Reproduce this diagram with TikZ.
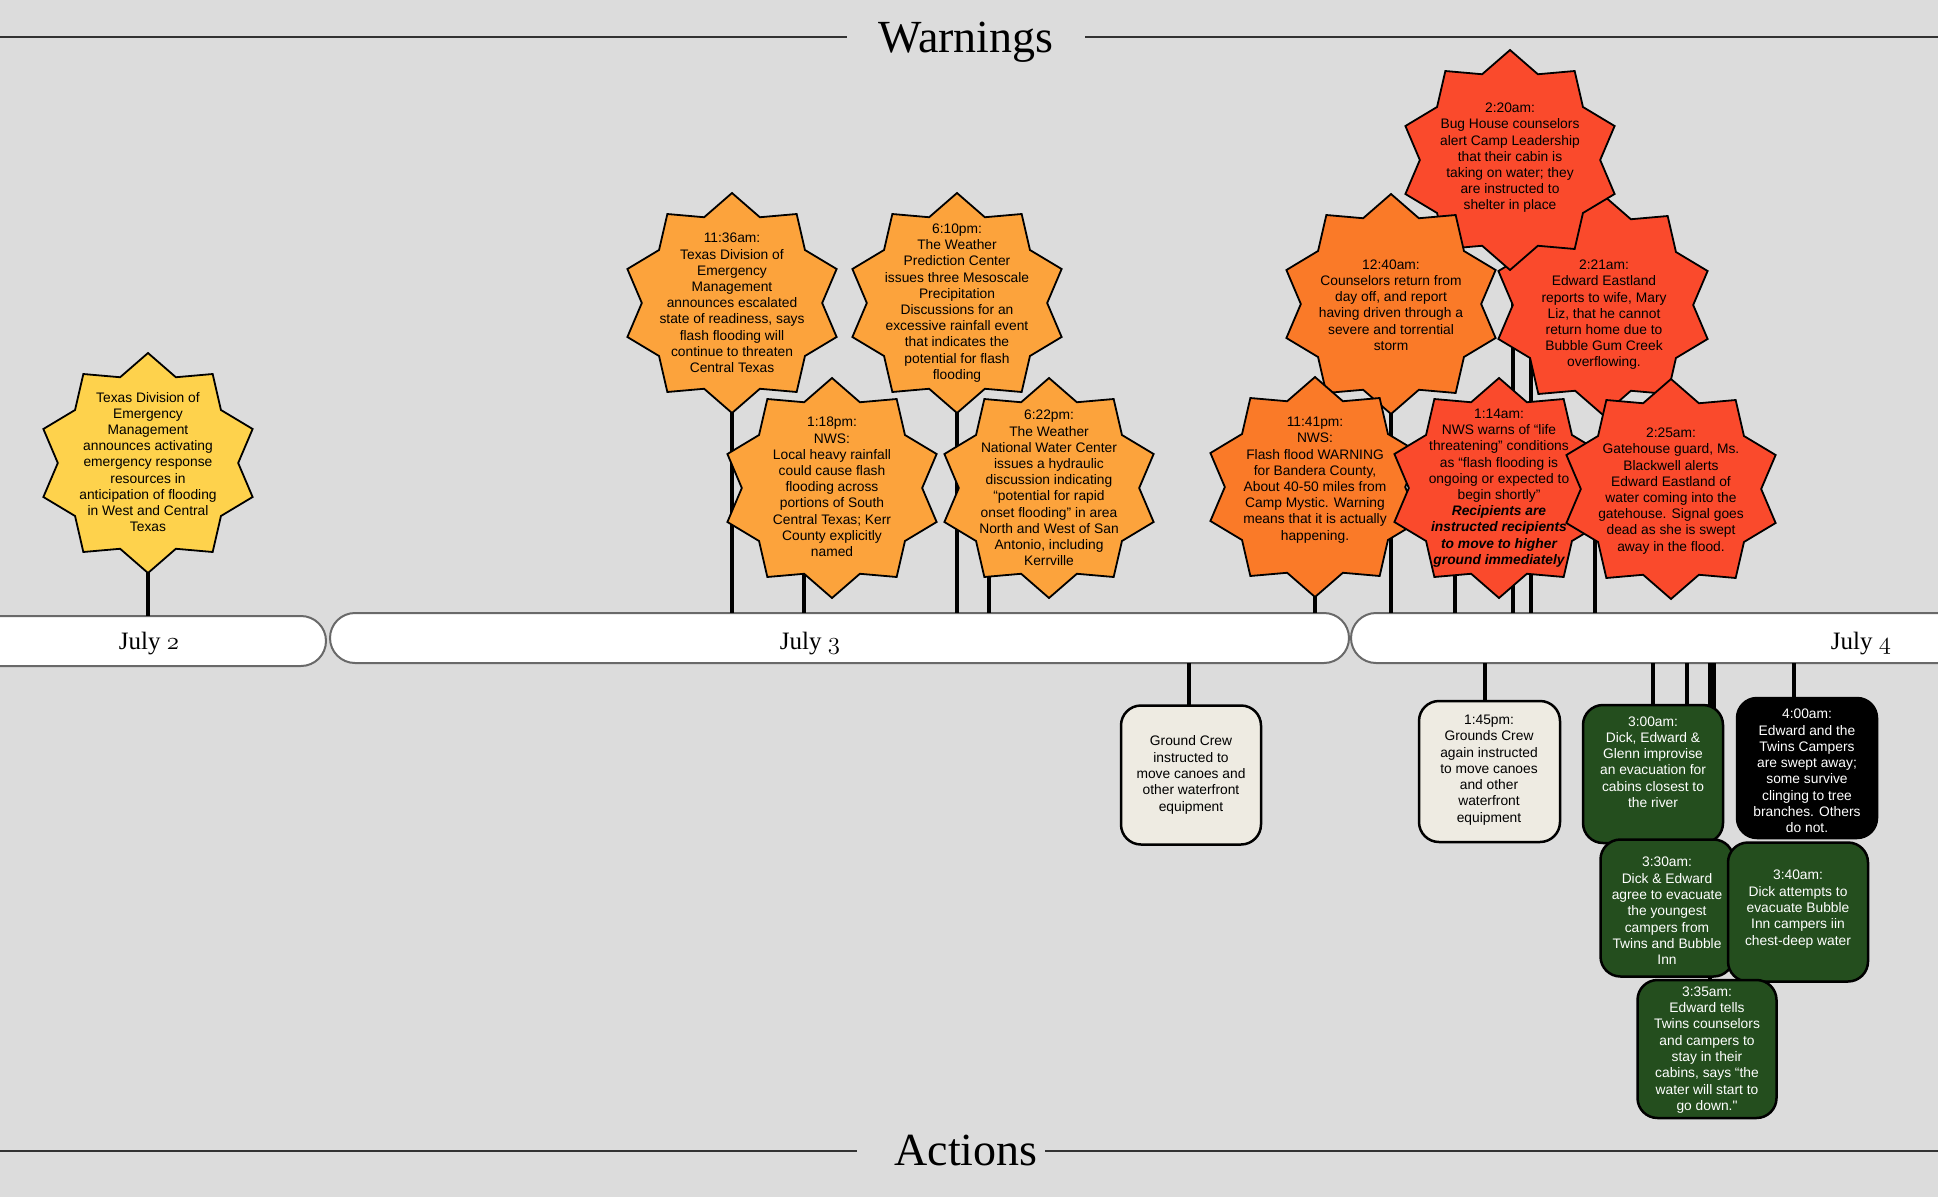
\documentclass[tikz,border=0pt]{standalone}
\usepackage{fontspec}
\setmainfont{Liberation Serif}
\newfontfamily\sansbox{Liberation Sans}
\usetikzlibrary{shapes.geometric}
\pgfdeclarelayer{back}
\pgfdeclarelayer{mid}
\pgfsetlayers{back,mid,main}
\definecolor{bgc}{RGB}{220,220,220}
\definecolor{yel}{RGB}{254,210,76}
\definecolor{lor}{RGB}{252,163,60}
\definecolor{mor}{RGB}{250,122,40}
\definecolor{rdo}{RGB}{250,74,44}
\definecolor{cream}{RGB}{238,235,226}
\definecolor{grn}{RGB}{36,78,30}
\definecolor{ttlc}{RGB}{51,51,51}
\definecolor{barline}{RGB}{105,105,105}
\newcommand\osn[1]{{\usefont{OML}{cmm}{m}{it}#1}}
\newcommand\bitx[1]{{\bfseries\itshape #1}}
\begin{document}
\begin{tikzpicture}[x=1pt,y=-1pt,
  starbase/.style={star, star points=10, star point ratio=1.22, minimum size=220pt,
    inner sep=0pt, outer sep=0pt, draw=black, line width=1.8pt, line join=miter},
  stxt/.style={font=\sansbox\fontsize{13.8pt}{16.2pt}\selectfont, align=center, text=black, inner sep=0pt},
  btxt/.style={font=\sansbox\fontsize{13.8pt}{16.3pt}\selectfont, align=center, inner sep=0pt},
  stem/.style={line width=4pt, black},
  abox/.style={draw=black, line width=2.5pt, rounded corners=20pt, minimum width=140pt,
    minimum height=139pt, inner sep=0pt, outer sep=0pt},
  bar/.style={draw=barline, line width=2pt, fill=white, rounded corners=25pt,
    minimum height=50pt, inner sep=0pt, outer sep=0pt},
  ttl/.style={font=\fontsize{46pt}{46pt}\selectfont, inner sep=0pt, anchor=base},
  datelbl/.style={font=\fontsize{25pt}{25pt}\selectfont, inner sep=0pt, anchor=base},
  tline/.style={line width=2.8pt, ttlc}]
\useasboundingbox (0,0) rectangle (1938,1197);

\begin{pgfonlayer}{back}
\fill[bgc] (0,0) rectangle (1938,1197);
\node[bar, minimum width=366pt] (b1) at (143,641) {};
\node[bar, minimum width=1019pt] (b2) at (839.5,638) {};
\node[bar, minimum width=639pt] (b3) at (1670.5,638) {};
\end{pgfonlayer}

% titles
\node[ttl] (warn) at (966,52) {Warnings};
\node[ttl] (act) at (966,1165) {Actions};
\draw[tline] (0,37) -- (847,37);
\draw[tline] (1085,37) -- (1938,37);
\draw[tline] (0,1151) -- (857,1151);
\draw[tline] (1045,1151) -- (1938,1151);

% date labels
\node[datelbl] (d2) at (149,649) {July \osn{2}};
\node[datelbl] (d3) at (810,649) {July \osn{3}};
\node[datelbl] (d4) at (1861,649) {July \osn{4}};

% stars
\node[starbase, fill=yel] (s1) at (148,463) {};
\node[stxt] (t1) at (148,462) {Texas Division of\\Emergency\\Management\\announces activating\\emergency response\\resources in\\anticipation of flooding\\in West and Central\\Texas};

\node[starbase, fill=lor] (s2) at (732,303) {};
\node[stxt] (t2) at (732,303) {11:36am:\\Texas Division of\\Emergency\\Management\\announces escalated\\state of readiness, says\\flash flooding will\\continue to threaten\\Central Texas};

\node[starbase, fill=lor] (s3) at (957,303) {};
\node[stxt] (t3) at (957,303) {6:10pm:\\The Weather\\Prediction Center\\issues three Mesoscale\\Precipitation\\Discussions for an\\excessive rainfall event\\that indicates the\\potential for flash\\flooding};

\node[starbase, fill=lor] (s4) at (832,488) {};
\node[stxt] (t4) at (832,487) {1:18pm:\\NWS:\\Local heavy rainfall\\could cause flash\\flooding across\\portions of South\\Central Texas; Kerr\\County explicitly\\named};

\node[starbase, fill=lor] (s5) at (1049,488) {};
\node[stxt] (t5) at (1049,488) {6:22pm:\\The Weather\\National Water Center\\issues a hydraulic\\discussion indicating\\“potential for rapid\\onset flooding” in area\\North and West of San\\Antonio, including\\Kerrville};

\node[starbase, fill=rdo] (s9) at (1603,305) {};
\node[stxt] (t9) at (1604,315) {2:21am:\\Edward Eastland\\reports to wife, Mary\\Liz, that he cannot\\return home due to\\Bubble Gum Creek\\overflowing.};

\node[starbase, fill=rdo] (s8) at (1510,160) {};
\node[stxt] (t8) at (1510,158) {2:20am:\\Bug House counselors\\alert Camp Leadership\\that their cabin is\\taking on water; they\\are instructed to\\shelter in place};

\node[starbase, fill=mor] (s7) at (1391,304) {};
\node[stxt] (t7) at (1391,305) {12:40am:\\Counselors return from\\day off, and report\\having driven through a\\severe and torrential\\storm};

\node[starbase, fill=mor] (s6) at (1315,487) {};
\node[stxt] (t6) at (1315,480) {11:41pm:\\NWS:\\Flash flood WARNING\\for Bandera County,\\About 40-50 miles from\\Camp Mystic.  Warning\\means that it is actually\\happening.};

\node[starbase, fill=rdo] (s10) at (1499,488) {};
\node[stxt] (t10) at (1499,488) {1:14am:\\NWS warns of “life\\threatening” conditions\\as “flash flooding is\\ongoing or expected to\\begin shortly”\\\bitx{Recipients are}\\\bitx{instructed recipients}\\\bitx{to move to higher}\\\bitx{ground immediately}};

\node[starbase, fill=rdo] (s11) at (1671,489) {};
\node[stxt] (t11) at (1671,491) {2:25am:\\Gatehouse guard, Ms.\\Blackwell alerts\\Edward Eastland of\\water coming into the\\gatehouse. Signal goes\\dead as she is swept\\away in the flood.};

% action boxes
\node[abox, fill=cream] (g1) at (1191,775) {};
\node[btxt, text=black] (u1) at (1191,775) {Ground Crew\\instructed to\\move canoes and\\other waterfront\\equipment};

\node[abox, fill=cream, minimum width=141pt, minimum height=141pt] (g2) at (1489.5,771.5) {};
\node[btxt, text=black] (u2) at (1489,770) {1:45pm:\\Grounds Crew\\again instructed\\to move canoes\\and other\\waterfront\\equipment};

\node[abox, fill=grn, minimum height=138pt] (g3) at (1653,774) {};
\node[btxt, text=white] (u3) at (1653,762) {3:00am:\\Dick, Edward \&\\Glenn improvise\\an evacuation for\\cabins closest to\\the river};

\node[abox, fill=black, minimum height=140pt] (g7) at (1807,768) {};
\node[btxt, text=white] (u7) at (1807,771) {4:00am:\\Edward and the\\Twins Campers\\are swept away;\\some survive\\clinging to tree\\branches.  Others\\do not.};

\node[abox, fill=grn, minimum width=133pt, minimum height=137pt] (g4) at (1667,908) {};
\node[btxt, text=white] (u4) at (1667,911) {3:30am:\\Dick \& Edward\\agree to evacuate\\the youngest\\campers from\\Twins and Bubble\\Inn};

\node[abox, fill=grn] (g6) at (1798,912) {};
\node[btxt, text=white] (u6) at (1798,909) {3:40am:\\Dick attempts to\\evacuate Bubble\\Inn campers iin\\chest-deep water};

\node[abox, fill=grn, minimum width=139pt, minimum height=138pt] (g5) at (1707,1049) {};
\node[btxt, text=white] (u5) at (1707,1050) {3:35am:\\Edward tells\\Twins counselors\\and campers to\\stay in their\\cabins, says “the\\water will start to\\go down."};

% stems
\begin{pgfonlayer}{mid}
\draw[stem] (s1.center) -- (s1.center |- b1.north);
\draw[stem] (s2.center) -- (s2.center |- b2.north);
\draw[stem] (s3.center) -- (s3.center |- b2.north);
\draw[stem] ([xshift=-28pt]s4.center) -- ([xshift=-28pt]s4.center |- b2.north);
\draw[stem] ([xshift=-60pt]s5.center) -- ([xshift=-60pt]s5.center |- b2.north);
\draw[stem] (s6.center) -- (s6.center |- b2.north);
\draw[stem] (s7.center) -- (s7.center |- b3.north);
\draw[stem] ([xshift=3pt]s8.center) -- ([xshift=3pt]s8.center |- b3.north);
\draw[stem] ([xshift=-72pt]s9.center) -- ([xshift=-72pt]s9.center |- b3.north);
\draw[stem] ([xshift=-44pt]s10.center) -- ([xshift=-44pt]s10.center |- b3.north);
\draw[stem] ([xshift=-76pt]s11.center) -- ([xshift=-76pt]s11.center |- b3.north);
\draw[stem] ([xshift=-2pt]g1.center) -- ([xshift=-2pt]g1.center |- b2.south);
\draw[stem] ([xshift=-5pt]g2.center) -- ([xshift=-5pt]g2.center |- b3.south);
\draw[stem] (g3.center) -- (g3.center |- b3.south);
\draw[stem] ([xshift=20pt]g4.center) -- ([xshift=20pt]g4.center |- b3.south);
\draw[stem] ([xshift=3pt]g5.center) -- ([xshift=3pt]g5.center |- b3.south);
\draw[stem] ([xshift=-84pt]g6.center) -- ([xshift=-84pt]g6.center |- b3.south);
\draw[stem] ([xshift=-13pt]g7.center) -- ([xshift=-13pt]g7.center |- b3.south);
\end{pgfonlayer}
\end{tikzpicture}
\end{document}
